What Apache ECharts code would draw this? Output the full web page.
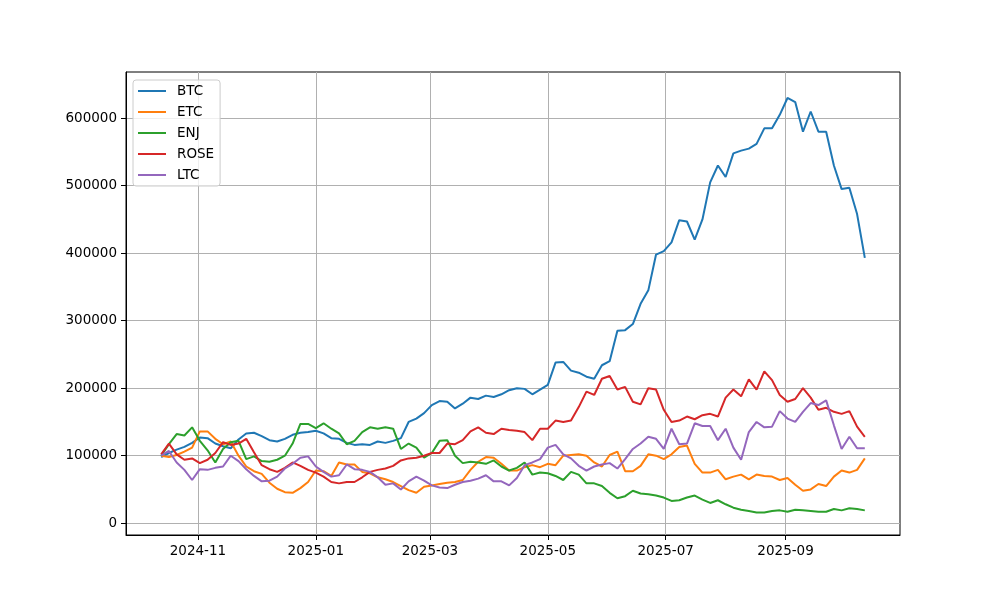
<!DOCTYPE html>
<html>
<head>
    <meta charset="utf-8">
    <title>BTC / ETC / ENJ / ROSE / LTC</title>
    <script src="https://cdn.jsdelivr.net/npm/echarts@6/dist/echarts.min.js"></script>
    <style>
        html, body { margin: 0; padding: 0; background: #ffffff; }
        #chart { width: 1000px; height: 600px; }
    </style>
</head>
<body>
<div id="chart"></div>
<script>
    // one point every 4 days, starting 2024-10-13
    var startDate = [2024, 9, 13];
    var stepDays = 4;

    var seriesNames = ['BTC', 'ETC', 'ENJ', 'ROSE', 'LTC'];
    var colors = ['#1f77b4', '#ff7f0e', '#2ca02c', '#d62728', '#9467bd'];

    var btc = [98000, 104000, 109000, 113000, 119000, 127000, 126000, 118000, 114000, 111000,
        124000, 133000, 134000, 129000, 123000, 121000, 125000, 131000, 134000, 135000,
        137000, 133000, 126000, 125000, 119000, 116000, 117000, 116000, 121000, 119000,
        122000, 126000, 150000, 155000, 163000, 175000, 181000, 180000, 170000, 177000,
        186000, 184000, 189000, 187000, 191000, 197000, 200000, 199000, 191000, 198000,
        205000, 238000, 239000, 226000, 223000, 217000, 214000, 234000, 240000, 285000,
        286000, 295000, 325000, 345000, 398000, 403000, 416000, 449000, 447000, 420000,
        450000, 505000, 530000, 513000, 548000, 552000, 555000, 562000, 585000, 585000,
        605000, 630000, 624000, 580000, 610000, 580000, 580000, 530000, 495000, 497000,
        458000, 393000];
    var etc = [100000, 98000, 101000, 106000, 112000, 136000, 136000, 125000, 117000, 121000,
        100000, 84000, 77000, 73000, 60000, 51000, 46000, 45000, 52000, 61000,
        78000, 77000, 70000, 90000, 87000, 87000, 76000, 74000, 68000, 65000,
        61000, 55000, 49000, 45000, 54000, 56000, 58000, 60000, 61000, 64000,
        79000, 91000, 98000, 97000, 88000, 78000, 78000, 83000, 86000, 83000,
        88000, 86000, 100000, 101000, 102000, 100000, 90000, 84000, 101000, 106000,
        77000, 77000, 85000, 102000, 100000, 95000, 102000, 113000, 115000, 88000,
        75000, 75000, 79000, 65000, 69000, 72000, 65000, 72000, 70000, 69000,
        64000, 67000, 57000, 48000, 50000, 58000, 55000, 69000, 78000, 75000,
        79000, 96000];
    var enj = [100000, 117000, 132000, 130000, 142000, 122000, 108000, 90000, 110000, 120000,
        122000, 95000, 99000, 92000, 91000, 94000, 100000, 118000, 147000, 147000,
        141000, 148000, 140000, 133000, 117000, 122000, 135000, 142000, 140000, 142000,
        140000, 110000, 118000, 112000, 97000, 104000, 122000, 123000, 100000, 89000,
        91000, 90000, 88000, 93000, 84000, 78000, 82000, 90000, 72000, 75000,
        74000, 70000, 64000, 76000, 72000, 59000, 59000, 55000, 45000, 37000,
        40000, 48000, 44000, 43000, 41000, 38000, 33000, 34000, 38000, 41000,
        35000, 30000, 34000, 28000, 23000, 20000, 18000, 16000, 16000, 18000,
        19000, 17000, 20000, 19000, 18000, 17000, 17000, 21000, 19000, 22000,
        21000, 19000];
    var rose = [102000, 118000, 102000, 94000, 96000, 89000, 94000, 104000, 120000, 116000,
        118000, 125000, 105000, 86000, 80000, 76000, 82000, 90000, 85000, 79000,
        75000, 69000, 61000, 59000, 61000, 61000, 68000, 76000, 79000, 81000,
        85000, 93000, 96000, 97000, 100000, 104000, 104000, 118000, 117000, 123000,
        136000, 142000, 134000, 132000, 140000, 138000, 137000, 135000, 123000, 140000,
        140000, 152000, 150000, 152000, 172000, 195000, 190000, 214000, 218000, 198000,
        202000, 180000, 176000, 200000, 198000, 168000, 150000, 152000, 158000, 154000,
        160000, 162000, 158000, 186000, 198000, 188000, 213000, 198000, 225000, 212000,
        190000, 180000, 184000, 200000, 186000, 168000, 171000, 165000, 162000, 166000,
        143000, 128000];
    var ltc = [100000, 107000, 90000, 79000, 64000, 80000, 79000, 82000, 84000, 100000,
        92000, 80000, 70000, 62000, 63000, 69000, 81000, 88000, 97000, 99000,
        84000, 76000, 69000, 71000, 87000, 80000, 79000, 76000, 68000, 57000,
        59000, 50000, 62000, 69000, 63000, 56000, 53000, 52000, 57000, 61000,
        63000, 66000, 71000, 62000, 62000, 56000, 67000, 86000, 90000, 95000,
        112000, 116000, 102000, 96000, 85000, 78000, 84000, 87000, 89000, 81000,
        95000, 110000, 118000, 128000, 125000, 110000, 140000, 117000, 118000, 148000,
        144000, 144000, 123000, 140000, 112000, 94000, 135000, 150000, 142000, 143000,
        166000, 155000, 150000, 165000, 178000, 175000, 182000, 145000, 110000, 128000,
        111000, 111000];

    var yTicks = [0, 100000, 200000, 300000, 400000, 500000, 600000];
    var xTickMonths = [[2024, 10], [2025, 0], [2025, 2], [2025, 4], [2025, 6], [2025, 8]];

    var t0 = new Date(startDate[0], startDate[1], startDate[2]).getTime();
    var dates = btc.map(function (v, i) {
        return new Date(startDate[0], startDate[1], startDate[2] + i * stepDays).getTime();
    });
    var tLast = dates[dates.length - 1];
    var pad = (tLast - t0) * 0.05;
    var xTicks = xTickMonths.map(function (m) { return new Date(m[0], m[1], 1).getTime(); });

    var allData = [btc, etc, enj, rose, ltc];

    function pairUp(vals) {
        return vals.map(function (v, i) { return [dates[i], v]; });
    }

    function pad2(n) { return n < 10 ? '0' + n : '' + n; }

    var chart = echarts.init(document.getElementById('chart'), null, { renderer: 'canvas' });

    var series = seriesNames.map(function (name, i) {
        return {
            name: name,
            type: 'line',
            data: pairUp(allData[i]),
            showSymbol: false,
            symbol: 'none',
            lineStyle: { width: 2, color: colors[i] },
            itemStyle: { color: colors[i] },
            animation: false
        };
    });

    var tickFont = { fontFamily: 'DejaVu Sans', fontSize: 13.5, color: '#000000' };

    var option = {
        animation: false,
        color: colors,
        grid: {
            left: 126, right: 100, top: 72, bottom: 65,
            show: true, borderColor: '#000000', borderWidth: 1, backgroundColor: 'transparent'
        },
        legend: {
            data: seriesNames,
            orient: 'vertical',
            left: 133, top: 80,
            icon: 'rect',
            itemWidth: 28, itemHeight: 2,
            itemGap: 7,
            padding: [4, 6, 4, 5],
            backgroundColor: 'rgba(255,255,255,0.8)',
            borderColor: '#cccccc', borderWidth: 1, borderRadius: 3,
            textStyle: { fontFamily: 'DejaVu Sans', fontSize: 13.5, color: '#000000', padding: [0, 0, 0, 6], lineHeight: 14 }
        },
        xAxis: {
            // timestamps on a plain value axis so the month ticks can be placed exactly
            type: 'value',
            min: t0 - pad,
            max: tLast + pad,
            axisLine: { show: true, onZero: false, lineStyle: { color: '#000000', width: 1 } },
            axisTick: { show: true, length: 5, lineStyle: { color: '#000000', width: 1 }, customValues: xTicks },
            axisLabel: {
                customValues: xTicks,
                margin: 9,
                fontFamily: tickFont.fontFamily, fontSize: tickFont.fontSize, color: tickFont.color,
                formatter: function (val) {
                    var d = new Date(val);
                    return d.getFullYear() + '-' + pad2(d.getMonth() + 1);
                }
            },
            splitLine: { show: true, lineStyle: { color: '#b0b0b0', width: 1 } }
        },
        yAxis: {
            type: 'value',
            min: -17500,
            max: 668500,
            axisLine: { show: true, onZero: false, lineStyle: { color: '#000000', width: 1 } },
            axisTick: { show: true, length: 5, lineStyle: { color: '#000000', width: 1 }, customValues: yTicks },
            axisLabel: {
                customValues: yTicks,
                margin: 9,
                fontFamily: tickFont.fontFamily, fontSize: tickFont.fontSize, color: tickFont.color,
                formatter: function (val) { return String(val); }
            },
            splitLine: { show: true, lineStyle: { color: '#b0b0b0', width: 1 } }
        },
        series: series
    };
    chart.setOption(option);
</script>
</body>
</html>
